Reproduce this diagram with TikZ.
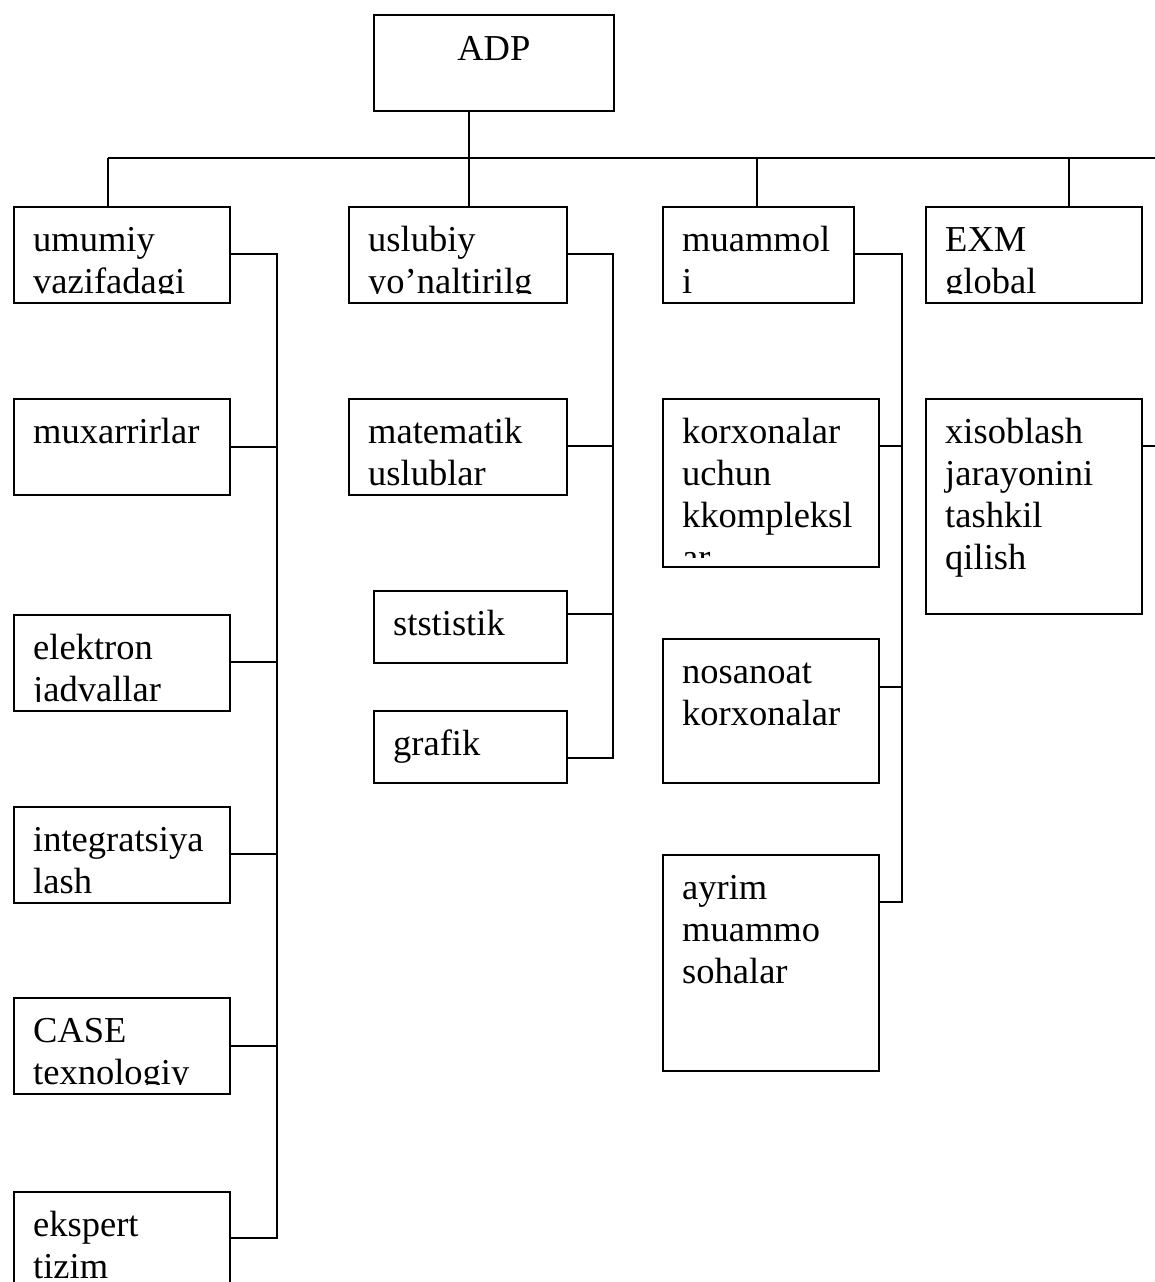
\documentclass[tikz,border=0pt]{standalone}
\usepackage{fontspec}
\setmainfont{Liberation Serif}
\usetikzlibrary{calc}
\tikzset{
  boxst/.style={draw, line width=1.8pt, inner sep=0pt, rectangle},
  lbl/.style={inner sep=0pt, anchor=base west, font=\fontsize{36.5}{42}\selectfont},
  conn/.style={line width=1.8pt},
}
% name, x, y(top), width, height, text lines, connector offset from top
\newcommand\mybox[7]{%
  \node[boxst, minimum width=#4pt, minimum height=#5pt, anchor=north west] (#1) at (#2,#3) {};
  \begin{scope}
    \clip (#1.north west) rectangle ($(#1.south east)+(0,-10)$);
    \node[lbl] (#1-t) at ($(#1.north west)+(20,45)$) {\begin{tabular}[t]{@{}l@{}}#6\end{tabular}};
  \end{scope}
  \coordinate (#1-c) at ($(#1.north east)+(0,#7)$);
}
\begin{document}
\begin{tikzpicture}[x=1pt,y=-1pt]
\fill[white] (0,0) rectangle (1155,1282);
\useasboundingbox (0,0) rectangle (1155,1282);

% root
\node[boxst, minimum width=240pt, minimum height=96pt, anchor=north west] (adp) at (373,14) {};
\node[lbl, anchor=base] (adp-t) at ($(adp.north)+(0,46)$) {ADP};
\coordinate (adp-c) at ($(adp.south west)+(96,0)$);

% column 1
\mybox{umumiy}{13}{206}{216}{96}{umumiy\\vazifadagi}{48}
\mybox{muxarrirlar}{13}{398}{216}{96}{muxarrirlar}{49}
\mybox{elektron}{13}{614}{216}{96}{elektron\\jadvallar}{48}
\mybox{integr}{13}{806}{216}{96}{integratsiya\\lash}{48}
\mybox{case}{13}{997}{216}{96}{CASE\\texnologiy}{49}
\mybox{ekspert}{13}{1191}{216}{120}{ekspert\\tizim}{47}

% column 2
\mybox{uslubiy}{348}{206}{218}{96}{uslubiy\\yo’naltirilg}{48}
\mybox{matematik}{348}{398}{218}{96}{matematik\\uslublar}{48}
\mybox{ststistik}{373}{590}{193}{72}{ststistik}{24}
\mybox{grafik}{373}{710}{193}{72}{grafik}{48}

% column 3
\mybox{muammoli}{662}{206}{191}{96}{muammol\\i}{48}
\mybox{korxonalar}{662}{398}{216}{168}{korxonalar\\uchun\\kkompleksl\\ar}{48}
\mybox{nosanoat}{662}{638}{216}{144}{nosanoat\\korxonalar}{49}
\mybox{ayrim}{662}{854}{216}{216}{ayrim\\muammo\\sohalar}{48}

% column 4
\mybox{exm}{925}{206}{216}{96}{EXM\\global}{48}
\mybox{xisoblash}{925}{398}{216}{215}{xisoblash\\jarayonini\\tashkil\\qilish}{48}

% trunk coordinates
\coordinate (barL) at (108,158);
\coordinate (barR) at (1155,158);
\coordinate (d1) at (108,158);
\coordinate (d3) at (757,158);
\coordinate (d4) at (1069,158);
\coordinate (bus1) at (277,0);
\coordinate (bus2) at (613,0);
\coordinate (bus3) at (902,0);
\coordinate (edge) at (1155,0);

% top level connectors
\draw[conn] (barL) -- (barR);
\draw[conn] (adp-c) -- (adp-c |- uslubiy.north);
\draw[conn] (d1) -- (d1 |- umumiy.north);
\draw[conn] (d3) -- (d3 |- muammoli.north);
\draw[conn] (d4) -- (d4 |- exm.north);

% column 1 bus
\draw[conn] (umumiy-c) -- (umumiy-c -| bus1) -- (ekspert-c -| bus1) -- (ekspert-c);
\foreach \n in {muxarrirlar,elektron,integr,case}
  \draw[conn] (\n-c) -- (\n-c -| bus1);

% column 2 bus
\draw[conn] (uslubiy-c) -- (uslubiy-c -| bus2) -- (grafik-c -| bus2) -- (grafik-c);
\foreach \n in {matematik,ststistik}
  \draw[conn] (\n-c) -- (\n-c -| bus2);

% column 3 bus
\draw[conn] (muammoli-c) -- (muammoli-c -| bus3) -- (ayrim-c -| bus3) -- (ayrim-c);
\foreach \n in {korxonalar,nosanoat}
  \draw[conn] (\n-c) -- (\n-c -| bus3);

% column 4 stub
\draw[conn] (xisoblash-c) -- (xisoblash-c -| edge);
\end{tikzpicture}
\end{document}
